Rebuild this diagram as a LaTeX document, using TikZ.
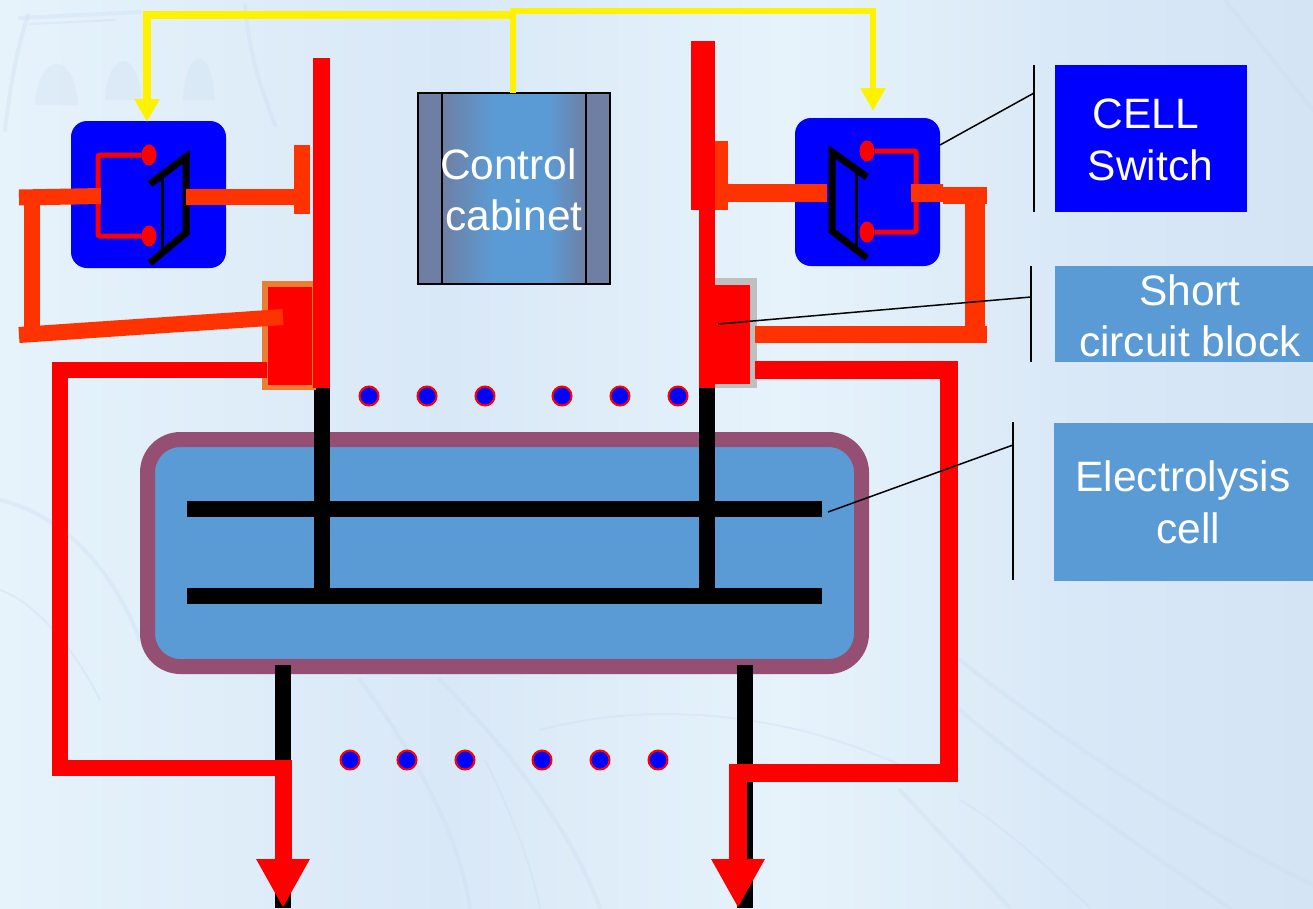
\documentclass[tikz,border=0pt]{standalone}
\usepackage{fontspec}
\setmainfont{Liberation Sans}
\usetikzlibrary{arrows.meta,shapes.geometric}
\definecolor{busred}{HTML}{FF0000}
\definecolor{feed}{HTML}{FF3300}
\definecolor{steel}{HTML}{5B9BD5}
\definecolor{slate}{HTML}{6E7FA3}
\definecolor{plum}{HTML}{954F72}
\definecolor{sw}{HTML}{0000FF}
\definecolor{faint}{HTML}{CBDCF1}
\definecolor{bgA}{HTML}{E6F3FB}
\definecolor{bgB}{HTML}{D9E8F7}
\definecolor{bgC}{HTML}{D4E4F5}
\pgfdeclarehorizontalshading{cabgrad}{100bp}{color(0bp)=(slate); color(25bp)=(slate); color(43bp)=(steel); color(62bp)=(steel); color(75bp)=(slate); color(100bp)=(slate)}
\pgfdeclarehorizontalshading{bggrad}{100bp}{color(0bp)=(bgA); color(25bp)=(bgA); color(42bp)=(bgB); color(55bp)=(bgA); color(66bp)=(bgB); color(75bp)=(bgC); color(100bp)=(bgC)}
\tikzset{
  x=1pt,y=-1pt,
  sketch/.style={draw=faint,line width=4pt,line cap=round,opacity=.32},
  thinsketch/.style={draw=faint,line width=2pt,line cap=round,opacity=.35},
  arch/.style={fill=faint,opacity=.25},
  box/.style={inner sep=0pt,outer sep=0pt,draw=none},
  label/.style={box,text=white,align=center,font=\fontsize{42.5}{51}\selectfont},
  busbar/.style={busred,line width=16.5pt},
  feedline/.style={feed,line width=17pt},
  blackbar/.style={black,line width=16pt},
  ctrl/.style={yellow,line width=7.5pt,-{Triangle[length=23pt,width=24pt]}},
  leader/.style={black,line width=1.5pt},
  loop/.style={busred,line width=5pt,rounded corners=2pt},
  contact/.style={box,fill=busred,ellipse,minimum width=15pt,minimum height=21pt},
  blade/.style={black,line width=7pt},
  dot/.style={circle,fill=sw,draw=busred,line width=2pt,minimum size=19pt,inner sep=0pt},
  swbox/.style={box,fill=sw,rounded corners=16pt},
  outarrow/.style={busred,line width=17pt,-{Triangle[length=49pt,width=50pt]}},
}
\begin{document}
\begin{tikzpicture}
\useasboundingbox (0,0) rectangle (1313,908);
% background
\shade[shading=bggrad] (0,0) rectangle (1313,908);
% faint sketch of the backdrop: arches, roofline, bridge
\fill[arch] (35,105) .. controls (38,50) and (75,50) .. (78,105) -- cycle;
\fill[arch] (105,100) .. controls (108,48) and (138,48) .. (142,100) -- cycle;
\fill[arch] (183,100) .. controls (186,45) and (212,45) .. (215,100) -- cycle;
\draw[sketch] (5,130) .. controls (12,70) and (20,40) .. (28,15);
\draw[sketch] (20,18) -- (140,12);
\draw[thinsketch] (30,24) -- (115,20);
\draw[sketch] (245,5) .. controls (250,60) and (262,90) .. (275,125);
\draw[sketch] (0,500) .. controls (80,520) and (120,590) .. (140,640);
\draw[sketch] (360,680) .. controls (420,760) and (460,840) .. (470,908);
\draw[sketch] (440,680) .. controls (520,760) and (575,840) .. (600,908);
\draw[thinsketch] (485,760) .. controls (510,810) and (530,860) .. (540,908);
\draw[thinsketch] (540,730) .. controls (650,700) and (800,710) .. (930,780);
\draw[sketch] (960,660) .. controls (1060,740) and (1200,830) .. (1313,885);
\draw[sketch] (960,710) .. controls (1030,770) and (1130,840) .. (1230,908);
\draw[thinsketch] (960,800) .. controls (1010,830) and (1050,870) .. (1090,908);
\draw[sketch] (900,790) -- (1010,908);
\draw[sketch] (1225,0) -- (1313,110);
\draw[thinsketch] (0,590) .. controls (30,600) and (70,640) .. (100,700);

% electrolysis cell
\node[box,fill=steel,draw=plum,line width=15pt,rounded corners=33pt,minimum width=714pt,minimum height=227pt] (cell) at (504.5,553) {};
\coordinate (cellT1) at (187,509); \coordinate (cellT2) at (822,509);
\coordinate (cellB1) at (187,596); \coordinate (cellB2) at (822,596);
\coordinate (legL1) at (283,665); \coordinate (legL2) at (283,908);
\coordinate (legR1) at (745,665); \coordinate (legR2) at (745,908);
\draw[blackbar] (cellT1) -- (cellT2);
\draw[blackbar] (cellB1) -- (cellB2);
\draw[blackbar] (legL1) -- (legL2);
\draw[blackbar] (legR1) -- (legR2);

% bus bars
\coordinate (busLtop) at (321.5,58); \coordinate (busLend) at (321.5,388); \coordinate (busLlow) at (321.5,596);
\coordinate (busRtop) at (707,41); \coordinate (busRend) at (707,388); \coordinate (busRlow) at (707,596);
\draw[blackbar] (busLend) -- (busLlow);
\draw[blackbar] (busRend) -- (busRlow);

% short circuit blocks
\node[box,fill={rgb,255:red,237;green,125;blue,49},minimum width=54pt,minimum height=109pt] (scLo) at (289,335.5) {};
\node[box,fill=busred,minimum width=44pt,minimum height=98pt] (scL) at (289.5,336) {};
\node[box,fill={rgb,255:red,191;green,191;blue,191},minimum width=58pt,minimum height=110pt] (scRo) at (728,333) {};
\node[box,fill=busred,minimum width=51pt,minimum height=99pt] (scR) at (724.5,334.5) {};

\draw[busbar] (busLtop) -- (busLend);
\draw[busbar] (busRtop) -- (busRend);
\node[box,fill=busred,minimum width=24pt,minimum height=169pt] (busRcap) at (703,125.5) {};

% control cabinet
\node[box,draw=black,line width=2pt,fill=slate,minimum width=192pt,minimum height=191pt] (cabinet) at (514,188.5) {};
\node[box,shading=cabgrad,draw=black,line width=2pt,minimum width=144pt,minimum height=191pt] (cab) at (514,188.5) {};
\node[label] (cabA) at (508.5,164) {Control};
\node[label] (cabB) at (514,215) {cabinet};

% switches
\node[swbox,minimum width=155pt,minimum height=147pt] (swL) at (148.5,194.5) {};
\node[swbox,minimum width=145pt,minimum height=148pt] (swR) at (867.5,192) {};

% left switch internals
\node[contact] (cL1) at (149,155) {};
\node[contact] (cL2) at (149,236) {};
\coordinate (cLm) at (98,195);
\draw[loop] (cL1) -| (cLm) |- (cL2);
\coordinate (bLa) at (150,184); \coordinate (bLb) at (186,157);
\coordinate (bLc) at (186,233); \coordinate (bLd) at (150,263);
\draw[blade,line join=miter] (bLa) -- (bLb) -- (bLc) -- (bLd);
\coordinate (bLt1) at (162,176); \coordinate (bLt2) at (162,252);
\draw[black,line width=3pt] (bLt1) -- (bLt2);

% right switch internals
\node[contact] (cR1) at (867,151) {};
\node[contact] (cR2) at (867,232) {};
\coordinate (cRm) at (916,190);
\draw[loop] (cR1) -| (cRm) |- (cR2);
\coordinate (bRa) at (867,177); \coordinate (bRb) at (832,152);
\coordinate (bRc) at (832,231); \coordinate (bRd) at (867,258);
\draw[blade,line join=miter] (bRa) -- (bRb) -- (bRc) -- (bRd);
\coordinate (bRt1) at (856,170); \coordinate (bRt2) at (856,250);
\draw[black,line width=3pt] (bRt1) -- (bRt2);

% feed lines, left
\coordinate (fL1) at (19,197.5); \coordinate (fL2) at (101,196);
\coordinate (fL3) at (32,197); \coordinate (fL4) at (32,330);
\coordinate (fL5) at (19,335); \coordinate (fL6) at (283,317);
\coordinate (fL7) at (186,197); \coordinate (fL8) at (302,197);
\coordinate (tLa) at (302,145); \coordinate (tLb) at (302,214);
\draw[feedline,line width=16pt] (fL1) -- (fL2);
\draw[feedline,line width=16pt] (fL3) -- (fL4);
\draw[feedline,line width=16pt] (fL5) -- (fL6);
\draw[feedline,line width=16pt] (fL7) -- (fL8);
\draw[feedline,line width=16pt] (tLa) -- (tLb);

% feed lines, right
\coordinate (fR1) at (715,193); \coordinate (fR2) at (827,193);
\coordinate (fR3) at (911,193); \coordinate (fR4) at (943,193);
\coordinate (fR5) at (943,195.5); \coordinate (fR6) at (987,195.5);
\coordinate (fR7) at (975,187); \coordinate (fR8) at (975,343);
\coordinate (fR9) at (755,334.5); \coordinate (fR10) at (987,334.5);
\coordinate (tRa) at (721.5,141); \coordinate (tRb) at (721.5,210);
\draw[feedline,line width=18pt] (fR1) -- (fR2);
\draw[feedline,line width=18pt] (fR3) -- (fR4);
\draw[feedline] (fR5) -- (fR6);
\draw[feedline,line width=20pt] (fR7) -- (fR8);
\draw[feedline] (fR9) -- (fR10);
\draw[feedline,line width=13pt] (tRa) -- (tRb);

% outgoing red lines
\coordinate (oL1) at (267,370); \coordinate (oL2) at (60,370);
\coordinate (oL3) at (60,768); \coordinate (oL4) at (283,768); \coordinate (oL5) at (283,908);
\draw[busbar,line join=miter] (oL1) -- (oL2) -- (oL3) -- (oL4);
\draw[outarrow] (oL4) ++(0,-8) -- (oL5);
\coordinate (oR1) at (755,370); \coordinate (oR2) at (949,370);
\coordinate (oR3) at (949,773); \coordinate (oR4) at (738,773); \coordinate (oR5) at (738,908);
\draw[busred,line width=18pt,line join=miter] (oR1) -- (oR2) -- (oR3) -- (oR4);
\draw[outarrow,line width=18pt] (oR4) ++(0,-9) -- (oR5);

% yellow control lines
\coordinate (yC) at (513,11); \coordinate (yR) at (873,11); \coordinate (yRt) at (873,111);
\coordinate (yJ) at (513,15); \coordinate (yL) at (147,15); \coordinate (yLt) at (147,122);
\draw[ctrl,line width=6.5pt] (cab.north) ++(-1,0) -- (yC) -- (yR) -- (yRt);
\draw[ctrl] (yJ) -- (yL) -- (yLt);

% dots
\foreach \n/\x in {a/369,b/427,c/485,d/562,e/620,f/678}
  \node[dot] (top\n) at (\x,396) {};
\foreach \n/\x in {a/350,b/407,c/465,d/542,e/600,f/658}
  \node[dot] (low\n) at (\x,760) {};

% labels
\node[box,fill=sw,minimum width=192pt,minimum height=147pt] (lblSwitch) at (1151,138.5) {};
\node[label] at (1145.5,114) {CELL};
\node[label] at (1150.5,165) {Switch};
\node[box,fill=steel,minimum width=258pt,minimum height=96pt] (lblShort) at (1184,314) {};
\node[label] at (1190,290) {Short};
\node[label] at (1190,341) {circuit block};
\node[box,fill=steel,minimum width=259pt,minimum height=158pt] (lblCell) at (1183.5,502) {};
\node[label] at (1183,480.5) {Electrolysis};
\node[label] at (1188,528) {cell};

% leaders
\coordinate (b1a) at (1034,65); \coordinate (b1b) at (1034,212); \coordinate (b1m) at (1034,93);
\coordinate (b2a) at (1031,266); \coordinate (b2b) at (1031,362); \coordinate (b2m) at (1031,297);
\coordinate (b3a) at (1013,422); \coordinate (b3b) at (1013,580); \coordinate (b3m) at (1013,445);
\coordinate (l1) at (940,145); \coordinate (l2) at (718,324); \coordinate (l3) at (828,512);
\draw[leader] (b1a) -- (b1b);
\draw[leader] (b2a) -- (b2b);
\draw[leader] (b3a) -- (b3b);
\draw[leader] (l1) -- (b1m);
\draw[leader] (l2) -- (b2m);
\draw[leader] (l3) -- (b3m);
\end{tikzpicture}
\end{document}
